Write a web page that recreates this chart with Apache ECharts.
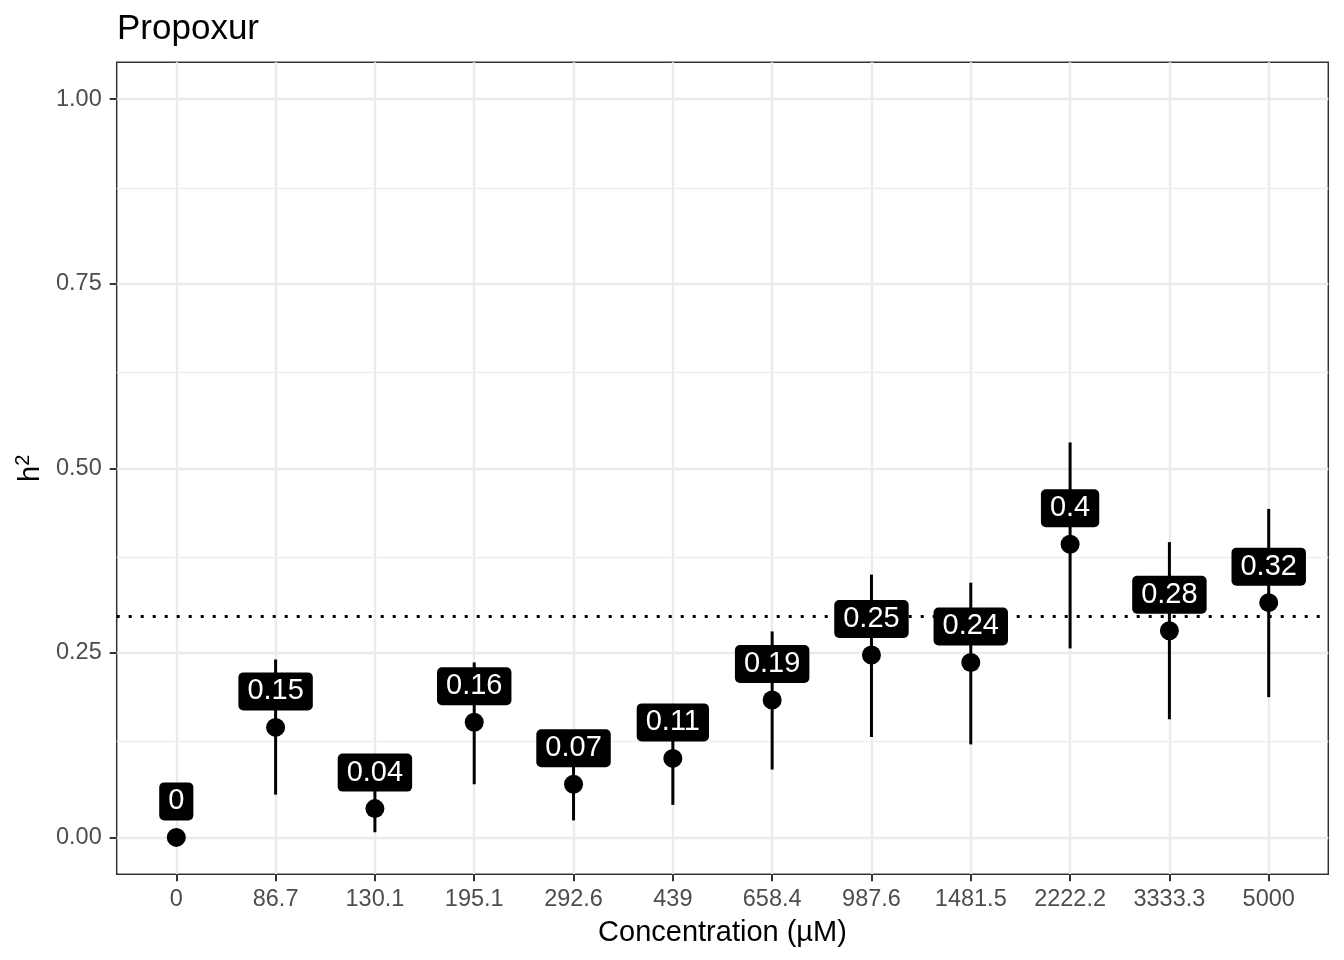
<!DOCTYPE html>
<html><head><meta charset="utf-8">
<script src="https://cdn.jsdelivr.net/npm/echarts@6/dist/echarts.min.js"></script>
<style>html,body{margin:0;padding:0;background:#fff}#c{width:1344px;height:960px}</style>
</head><body><div id="c"></div>
<script>
const categories = ['0','86.7','130.1','195.1','292.6','439','658.4','987.6','1481.5','2222.2','3333.3','5000'];
const h2Values = [0, 0.149, 0.039, 0.156, 0.072, 0.107, 0.186, 0.247, 0.237, 0.397, 0.280, 0.318];
const ciLower  = [0, 0.058, 0.007, 0.072, 0.023, 0.044, 0.092, 0.136, 0.126, 0.256, 0.160, 0.190];
const ciUpper  = [0, 0.241, 0.085, 0.237, 0.120, 0.160, 0.279, 0.356, 0.345, 0.535, 0.400, 0.445];
const yTicks = [0, 0.25, 0.5, 0.75, 1];
const yMinorBreaks = [0.125, 0.375, 0.625, 0.875];
const threshold = 0.3;

const FONT = 'Liberation Sans, Arial, Helvetica, sans-serif';
const catIdx = categories.map((c, i) => i);

const chart = echarts.init(document.getElementById('c'), null, {renderer: 'canvas'});
chart.setOption({
  animation: false,
  backgroundColor: '#fff',
  title: {
    text: 'Propoxur', left: 117, top: 12, padding: 0,
    textStyle: {fontSize: 35, fontWeight: 'normal', color: '#000', fontFamily: FONT}
  },
  grid: {
    left: 116.7, right: 15.7, top: 62.3, bottom: 85.7,
    show: true, borderColor: '#333', borderWidth: 1.5, backgroundColor: 'transparent'
  },
  xAxis: {
    type: 'value', min: -0.6, max: 11.6,
    axisLine: {show: false, onZero: false},
    axisTick: {show: true, customValues: catIdx, length: 7, lineStyle: {color: '#333', width: 2}},
    axisLabel: {customValues: catIdx, formatter: v => categories[Math.round(v)], fontSize: 23.5, lineHeight: 24, color: '#4D4D4D', margin: 13, fontFamily: FONT},
    splitLine: {show: true, lineStyle: {color: '#EBEBEB', width: 2.4}},
    name: 'Concentration (µM)', nameLocation: 'middle', nameGap: 44,
    nameTextStyle: {fontSize: 29, color: '#000', fontFamily: FONT}
  },
  yAxis: {
    type: 'value', min: -0.05, max: 1.05,
    axisLine: {show: false, onZero: false},
    axisTick: {show: true, customValues: yTicks, length: 7, lineStyle: {color: '#333', width: 2}},
    axisLabel: {customValues: yTicks, formatter: v => v.toFixed(2), fontSize: 23.5, color: '#4D4D4D', margin: 15, fontFamily: FONT},
    splitLine: {show: true, lineStyle: {color: '#EBEBEB', width: 2.4}},
    name: 'h{sup|2}', nameLocation: 'middle', nameGap: 59,
    nameTextStyle: {
      fontSize: 29, color: '#000', fontFamily: FONT,
      rich: {sup: {fontSize: 20, color: '#000', fontFamily: FONT, padding: [0, 0, 14, 0]}}
    }
  },
  series: [
    {
      type: 'line', data: [], z: 1, silent: true,
      markLine: {
        silent: true, symbol: 'none', z: 1, animation: false,
        label: {show: false},
        lineStyle: {color: '#EFEFEF', width: 1.3, type: 'solid'},
        data: yMinorBreaks.map(v => ({yAxis: v}))
      }
    },
    {
      type: 'line', data: [], z: 3, silent: true,
      markLine: {
        silent: true, symbol: 'none', z: 3, animation: false,
        label: {show: false},
        lineStyle: {color: '#000', width: 2.8, type: [3, 9]},
        data: [{yAxis: threshold}]
      }
    },
    {
      type: 'custom', z: 5, silent: true,
      data: catIdx.map(i => [i, ciLower[i], ciUpper[i]]),
      renderItem: function (params, api) {
        const x = api.value(0), lo = api.value(1), hi = api.value(2);
        if (lo === hi) return null;
        const p1 = api.coord([x, lo]), p2 = api.coord([x, hi]);
        return {type: 'line', shape: {x1: p1[0], y1: p1[1], x2: p2[0], y2: p2[1]},
                style: {stroke: '#000', lineWidth: 3}};
      }
    },
    {
      type: 'scatter', z: 10, symbol: 'circle', symbolSize: 19,
      itemStyle: {color: '#000', opacity: 1},
      emphasis: {disabled: true},
      data: catIdx.map(i => [i, h2Values[i]]),
      label: {
        show: true, position: 'inside', offset: [0, -36],
        formatter: p => String(Math.round(p.value[1] * 100) / 100),
        color: '#fff', backgroundColor: '#000', borderRadius: 5, opacity: 1,
        padding: [7, 9], fontSize: 29, lineHeight: 24, fontFamily: FONT
      }
    }
  ]
});
</script></body></html>
